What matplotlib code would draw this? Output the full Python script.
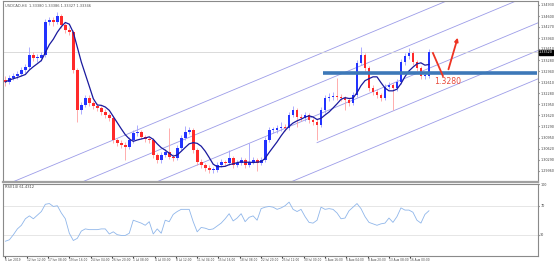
import matplotlib
matplotlib.use("Agg")
import matplotlib.pyplot as plt
import matplotlib.transforms as mtransforms
import numpy as np
import pandas as pd

# USDCAD H4 (one candle here ~ 3 H4 bars)
first_open = 1.3268
closes = [1.3262, 1.3274, 1.3280, 1.3286, 1.3298, 1.3307, 1.3343, 1.3334, 1.3334, 1.3343,
          1.3442, 1.3448, 1.3442, 1.3460, 1.3433, 1.3418, 1.3412, 1.3298, 1.3178, 1.3193,
          1.3214, 1.3199, 1.3190, 1.3184, 1.3172, 1.3163, 1.3154, 1.3088, 1.3079, 1.3073,
          1.3067, 1.3088, 1.3109, 1.3112, 1.3097, 1.3091, 1.3088, 1.3043, 1.3028, 1.3043,
          1.3052, 1.3037, 1.3034, 1.3064, 1.3094, 1.3112, 1.3118, 1.3058, 1.3022, 1.3013,
          1.3004, 1.2998, 1.2998, 1.3013, 1.3022, 1.3019, 1.3034, 1.3013, 1.3019, 1.3028,
          1.3013, 1.3022, 1.3028, 1.3019, 1.3028, 1.3088, 1.3118, 1.3118, 1.3124, 1.3127,
          1.3124, 1.3163, 1.3178, 1.3157, 1.3154, 1.3163, 1.3148, 1.3142, 1.3133, 1.3178,
          1.3214, 1.3217, 1.3220, 1.3217, 1.3214, 1.3208, 1.3199, 1.3223, 1.3319, 1.3343,
          1.3304, 1.3244, 1.3232, 1.3223, 1.3214, 1.3247, 1.3253, 1.3244, 1.3262, 1.3322,
          1.3340, 1.3349, 1.3322, 1.3304, 1.3280, 1.3280, 1.3352]
highs = [1.3280, 1.3283, 1.3290, 1.3295, 1.3306, 1.3316, 1.3367, 1.3352, 1.3345, 1.3352,
         1.3452, 1.3458, 1.3456, 1.3472, 1.3466, 1.3440, 1.3426, 1.3418, 1.3304, 1.3202,
         1.3223, 1.3222, 1.3206, 1.3198, 1.3190, 1.3180, 1.3170, 1.3160, 1.3095, 1.3088,
         1.3082, 1.3096, 1.3118, 1.3133, 1.3118, 1.3104, 1.3098, 1.3094, 1.3050, 1.3052,
         1.3060, 1.3124, 1.3046, 1.3072, 1.3102, 1.3130, 1.3128, 1.3124, 1.3064, 1.3030,
         1.3020, 1.3012, 1.3008, 1.3022, 1.3030, 1.3028, 1.3058, 1.3040, 1.3028, 1.3036,
         1.3034, 1.3079, 1.3036, 1.3034, 1.3036, 1.3096, 1.3126, 1.3128, 1.3134, 1.3142,
         1.3135, 1.3172, 1.3190, 1.3184, 1.3166, 1.3172, 1.3170, 1.3155, 1.3150, 1.3186,
         1.3222, 1.3228, 1.3232, 1.3274, 1.3226, 1.3220, 1.3214, 1.3232, 1.3328, 1.3367,
         1.3350, 1.3310, 1.3252, 1.3240, 1.3230, 1.3256, 1.3262, 1.3260, 1.3270, 1.3330,
         1.3350, 1.3364, 1.3356, 1.3328, 1.3310, 1.3290, 1.3360]
lows = [1.3250, 1.3255, 1.3268, 1.3272, 1.3280, 1.3290, 1.3300, 1.3325, 1.3322, 1.3326,
        1.3338, 1.3432, 1.3430, 1.3436, 1.3425, 1.3410, 1.3402, 1.3290, 1.3142, 1.3166,
        1.3186, 1.3190, 1.3182, 1.3175, 1.3163, 1.3154, 1.3145, 1.3080, 1.3070, 1.3064,
        1.3028, 1.3060, 1.3080, 1.3100, 1.3090, 1.3083, 1.3078, 1.3035, 1.3018, 1.3020,
        1.3036, 1.3030, 1.3025, 1.3028, 1.3058, 1.3088, 1.3105, 1.3050, 1.3012, 1.3005,
        1.2996, 1.2990, 1.2988, 1.2992, 1.3006, 1.3010, 1.3012, 1.3005, 1.3006, 1.3012,
        1.3004, 1.3006, 1.3015, 1.2995, 1.3012, 1.3022, 1.3082, 1.3108, 1.3110, 1.3115,
        1.3114, 1.3118, 1.3156, 1.3127, 1.3145, 1.3146, 1.3140, 1.3134, 1.3088, 1.3126,
        1.3170, 1.3206, 1.3208, 1.3208, 1.3204, 1.3178, 1.3190, 1.3192, 1.3216, 1.3312,
        1.3296, 1.3236, 1.3224, 1.3214, 1.3205, 1.3208, 1.3240, 1.3178, 1.3236, 1.3256,
        1.3314, 1.3332, 1.3314, 1.3296, 1.3270, 1.3270, 1.3274]
rsi = [21, 23, 30, 38, 43, 52, 56, 52, 57, 62, 72, 73, 69, 70, 60, 52, 32, 22, 25, 35,
       38, 37, 37, 37, 38, 38, 31, 34, 30, 29, 29, 32, 50, 48, 46, 43, 48, 31, 38, 32,
       50, 48, 58, 62, 65, 65, 65, 48, 34, 40, 39, 37, 38, 42, 46, 52, 59, 49, 53, 59,
       48, 54, 56, 50, 66, 68, 69, 68, 65, 67, 70, 75, 65, 62, 65, 55, 47, 46, 50, 68,
       65, 66, 65, 60, 52, 53, 63, 68, 73, 66, 55, 47, 45, 43, 45, 46, 53, 47, 55, 67,
       64, 64, 61, 50, 46, 58, 63]

date_labels = ["6 Jun 2019", "12 Jun 12:00", "17 Jun 08:00", "19 Jun 16:00", "24 Jun 04:00",
               "26 Jun 20:00", "1 Jul 08:00", "4 Jul 00:00", "8 Jul 12:00", "11 Jul 04:00",
               "15 Jul 16:00", "18 Jul 08:00", "22 Jul 20:00", "25 Jul 12:00", "30 Jul 00:00",
               "1 Aug 16:00", "6 Aug 04:00", "8 Aug 20:00", "13 Aug 08:00", "16 Aug 00:00"]
price_ticks = [1.3493, 1.3460, 1.3427, 1.3394, 1.3361, 1.3328, 1.3294, 1.3261,
               1.3228, 1.3195, 1.3162, 1.3129, 1.3095, 1.3062, 1.3029, 1.2996]

# equidistant channel: price of each line at candle 69, slope per candle
channel_k = 69
channel_prices = [1.3298, 1.3211, 1.3118, 1.3035, 1.2950]
channel_slope = 0.0005
channel_start = [None, None, None, 78, None]

support = 1.3290
support_from = 79.6
target = 1.3280
arrow_down = ([107.0, 109.5], [1.3349, 1.3280])
arrow_up = ([110.7, 113.4], [1.3292, 1.3403])

n = len(closes)
k = np.arange(n)
c = np.array(closes)
o = np.r_[first_open, c[:-1]]
h = np.array(highs)
l = np.array(lows)
ma = pd.Series(c).rolling(6, min_periods=1).mean()

UP = "#2233ff"
DN = "#ff2a2a"

fig = plt.figure(figsize=(5.54, 2.61), dpi=100)
ax = fig.add_axes([3/554, 1-182/261, 535/554, 181/261])
ax2 = fig.add_axes([3/554, 1-256/261, 535/554, 72/261], sharex=ax)

xmax = 133.3
ax.set_xlim(-0.6, xmax)
ax.set_ylim(1.2962, 1.3505)

# channel lines
for p, st in zip(channel_prices, channel_start):
    x0 = -1 if st is None else st
    xs = np.array([x0, xmax + 1])
    ax.plot(xs, p + channel_slope*(xs - channel_k), color="#9c9ce8", lw=0.6, zorder=1)

ax.axhline(c[-1], color="#d4d4d4", lw=0.6, zorder=1)

# candles
up = c >= o
cols = np.where(up, UP, DN)
wick_cols = np.where(up, "#a0a0ff", "#ffa0a0")
ax.vlines(k, l, h, colors=wick_cols, lw=0.6, zorder=2)
body = np.maximum(np.abs(c - o), 0.0002)
ax.bar(k, body, bottom=np.minimum(o, c), width=0.7, color=cols, lw=0, zorder=3)

ax.plot(k, ma, color="#1a1a9e", lw=0.9, zorder=4)

ax.hlines(support, support_from, xmax - 0.3, color="#3d78b8", lw=2.6, zorder=5)

ax.plot(*arrow_down, color="#ee3322", lw=1.3, zorder=6)
ax.annotate("", xy=(arrow_up[0][1], arrow_up[1][1]), xytext=(arrow_up[0][0], arrow_up[1][0]),
            arrowprops=dict(arrowstyle="-|>", color="#ee3322", lw=1.3, mutation_scale=5),
            zorder=6)
ax.text(110.7, 1.3264, "%.4f" % target, color="#e84a3a", fontsize=5.6,
        ha="center", va="center", zorder=6)

ax.text(0.003, 0.985, "USDCAD,H4  1.33380 1.33386 1.33327 1.33346", transform=ax.transAxes,
        fontsize=2.6, color="#555555", va="top")

ax.yaxis.tick_right()
ax.set_yticks(price_ticks)
ax.set_yticklabels(["%.5f" % t for t in price_ticks])
ax.tick_params(axis="y", labelsize=2.4, length=1.0, pad=0.6, colors="#444444")
ax.tick_params(axis="x", bottom=False, labelbottom=False)

trans = mtransforms.blended_transform_factory(ax.transAxes, ax.transData)
ax.text(1.002, c[-1], "%.5f" % c[-1], transform=trans, fontsize=2.4, color="white",
        va="center", ha="left",
        bbox=dict(boxstyle="square,pad=0.15", fc="black", ec="black"), zorder=7)

for sp in ax.spines.values():
    sp.set_color("#8a8a8a")
    sp.set_linewidth(0.8)
ax.spines["bottom"].set_linewidth(1.6)
ax.spines["bottom"].set_color("#a0a0a0")

# RSI window
ax2.plot(k, rsi, color="#8fb6ea", lw=0.6)
ax2.set_ylim(0.6, 100)
for lev in (30, 70):
    ax2.axhline(lev, color="#e2e2e2", lw=0.6, zorder=0)
ax2.yaxis.tick_right()
ax2.set_yticks([30, 70, 100])
ax2.tick_params(axis="y", labelsize=2.4, length=1.0, pad=0.6, colors="#444444")
ax2.text(0.003, 0.985, "RSI(14) 61.4312", transform=ax2.transAxes, fontsize=2.6,
         color="#444444", va="top")

tick_pos = [i*16/3 for i in range(len(date_labels))]
ax2.set_xticks(tick_pos)
ax2.set_xticklabels(date_labels, ha="left")
ax2.tick_params(axis="x", labelsize=2.1, length=1.2, pad=0.4, colors="#444444")
for sp in ax2.spines.values():
    sp.set_color("#8a8a8a")
    sp.set_linewidth(0.8)

fig.savefig("out.png", dpi=100)
